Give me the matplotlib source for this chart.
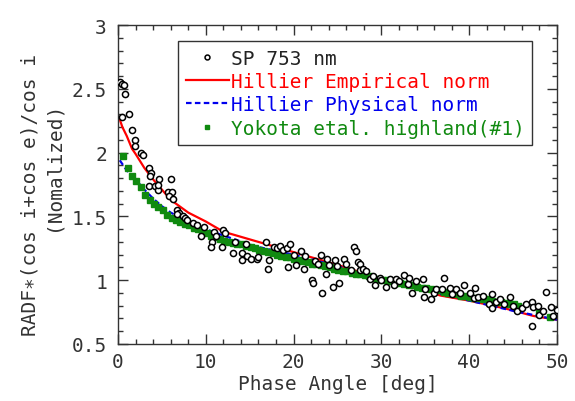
import matplotlib
matplotlib.use("Agg")
from matplotlib import pyplot as plt
from matplotlib.ticker import MultipleLocator, FuncFormatter

# SP 753 nm observations (phase angle, normalized RADF)
sp_x = [0.25, 0.45, 0.65, 0.8, 0.4, 1.25, 1.6, 1.9, 1.9, 2.65, 2.8, 3.55, 3.75, 3.7,
        4.65, 3.55, 4.2, 4.6, 4.5, 6.0, 5.75, 6.1, 5.85, 6.3, 6.75, 7.0, 6.7, 7.4,
        7.6, 7.85, 8.5, 9.0, 9.8, 9.4, 10.9, 11.2, 12.0, 12.2, 10.7, 10.6, 11.9, 13.1,
        13.3, 14.1, 14.1, 14.6, 14.7, 15.2, 15.8, 16.0, 16.9, 17.2, 17.1, 17.8, 18.1,
        18.5, 18.75, 19.3, 19.6, 19.4, 20.0, 20.3, 20.8, 21.3, 21.2, 22.1, 22.2, 22.4,
        22.8, 23.1, 23.8, 23.7, 23.2, 24.0, 24.5, 24.7, 25.0, 25.2, 25.7, 26.0, 26.5,
        26.9, 27.1, 27.3, 27.6, 27.6, 27.9, 28.3, 28.7, 29.0, 29.3, 29.8, 30.0, 30.5,
        31.0, 31.7, 31.4, 32.0, 32.6, 33.0, 33.1, 33.5, 33.9, 34.7, 34.9, 35.0, 35.7,
        36.0, 36.2, 37.1, 36.9, 37.8, 38.0, 38.5, 39.0, 39.4, 40.1, 40.5, 40.7, 41.0,
        41.6, 42.2, 42.6, 42.6, 43.0, 43.5, 44.0, 44.7, 45.0, 45.4, 46.0, 46.5, 47.1,
        47.3, 47.8, 47.2, 48.0, 48.4, 48.8, 49.3, 49.5, 50.0]
sp_y = [2.55, 2.54, 2.53, 2.46, 2.28, 2.30, 2.18, 2.10, 2.05, 2.00, 1.98, 1.88, 1.84, 1.82,
        1.79, 1.74, 1.74, 1.71, 1.75, 1.79, 1.69, 1.69, 1.66, 1.64, 1.55, 1.53, 1.52, 1.50,
        1.49, 1.47, 1.45, 1.43, 1.42, 1.35, 1.38, 1.35, 1.39, 1.37, 1.30, 1.26, 1.26, 1.21,
        1.30, 1.21, 1.16, 1.28, 1.19, 1.17, 1.17, 1.18, 1.30, 1.16, 1.09, 1.26, 1.25,
        1.27, 1.24, 1.25, 1.28, 1.10, 1.20, 1.12, 1.23, 1.19, 1.09, 1.00, 0.98, 1.15,
        1.13, 1.20, 1.17, 1.05, 0.90, 1.12, 0.95, 1.16, 1.11, 0.98, 1.17, 1.13, 1.08,
        1.26, 1.23, 1.14, 1.13, 1.08, 1.09, 1.07, 1.01, 1.03, 0.96, 1.02, 1.00, 0.95,
        1.01, 1.01, 0.96, 0.99, 1.04, 0.97, 1.02, 0.90, 0.99, 1.01, 0.87, 0.93, 0.85,
        0.90, 0.93, 1.02, 0.93, 0.94, 0.89, 0.93, 0.90, 0.96, 0.90, 0.86, 0.94, 0.87,
        0.88, 0.81, 0.89, 0.78, 0.83, 0.85, 0.81, 0.87, 0.80, 0.76, 0.78, 0.81, 0.83,
        0.79, 0.80, 0.64, 0.73, 0.76, 0.91, 0.79, 0.72, 0.77]

# Hillier empirical normalization
emp_x = [0.2, 0.5, 1, 1.6, 2, 3, 4, 5, 6, 7, 8, 10, 12, 14, 16, 18, 20, 25, 30, 35,
         36.7, 40, 44.3, 47.3, 50]
emp_y = [2.26, 2.20, 2.13, 2.03, 1.99, 1.88, 1.79, 1.71, 1.63, 1.58, 1.53, 1.46, 1.38,
         1.34, 1.30, 1.26, 1.22, 1.12, 1.01, 0.92, 0.88, 0.84, 0.775, 0.72, 0.69]

# Hillier physical normalization
phy_x = [0.2, 0.5, 1, 2, 3, 4, 5, 6, 8, 10, 12, 15, 16, 20, 25, 30, 35, 40, 45, 50]
phy_y = [1.94, 1.91, 1.86, 1.79, 1.71, 1.64, 1.58, 1.53, 1.46, 1.40, 1.35, 1.28, 1.26,
         1.20, 1.11, 1.00, 0.92, 0.84, 0.76, 0.69]

# Yokota et al. highland (#1)
yok_x = [0.6, 1.1, 1.6, 2.1, 2.6, 3.1, 3.6, 4.1, 4.6, 5.1, 5.6, 6.1, 6.6, 7.1, 7.6, 8.1,
         8.6, 9.1, 9.6, 10.1, 10.6, 11.1, 11.6, 12.1, 12.6, 13.1, 13.6, 14.1, 14.6, 15.1,
         15.6, 16.1, 16.6, 17.1, 17.6, 18.1, 18.6, 19.1, 19.6, 20.1, 20.6, 21.1, 21.6,
         22.1, 22.6, 23.1, 23.6, 24.1, 24.6, 25.1, 25.6, 26.1, 26.6, 27.1, 27.6, 28.1,
         28.6, 29.1, 29.6, 30.1, 30.6, 31.1, 31.6, 32.1, 32.6, 33.1, 33.6, 34.1, 34.6,
         35.1, 35.6, 36.1, 36.6, 37.1, 37.6, 38.1, 38.6, 39.1, 39.6, 40.1, 40.6, 41.1,
         41.6, 42.1, 42.6, 43.1, 43.6, 44.1, 44.6, 45.1, 45.6, 48.0, 49.2]
yok_y = [1.97, 1.88, 1.82, 1.78, 1.73, 1.67, 1.63, 1.60, 1.57, 1.55, 1.51, 1.49, 1.47,
         1.46, 1.44, 1.43, 1.41, 1.40, 1.38, 1.37, 1.35, 1.34, 1.32, 1.31, 1.30, 1.29,
         1.28, 1.28, 1.27, 1.26, 1.25, 1.24, 1.23, 1.22, 1.21, 1.20, 1.19, 1.18, 1.18,
         1.17, 1.16, 1.15, 1.14, 1.13, 1.13, 1.12, 1.11, 1.10, 1.09, 1.08, 1.07, 1.07,
         1.06, 1.05, 1.05, 1.04, 1.03, 1.02, 1.01, 1.00, 1.00, 0.99, 0.98, 0.98, 0.97,
         0.96, 0.96, 0.95, 0.94, 0.94, 0.93, 0.92, 0.92, 0.91, 0.90, 0.90, 0.89, 0.88,
         0.88, 0.87, 0.86, 0.86, 0.85, 0.85, 0.84, 0.83, 0.83, 0.82, 0.81, 0.81, 0.80,
         0.74, 0.71]

plt.rcParams['font.family'] = ['DejaVu Sans Mono', 'DejaVu Sans']
plt.rcParams['font.size'] = 14

fig = plt.figure(figsize=(5.75, 4.02), dpi=100)
ax = fig.add_axes([0.2052, 0.1418, 0.7635, 0.7935])

ax.plot(emp_x, emp_y, color='#ff0000', lw=1.6, label='Hillier Empirical norm', zorder=2)
ax.plot(phy_x, phy_y, color='#0000ee', lw=1.6, ls=(0, (2.5, 1.5)),
        label='Hillier Physical norm', zorder=2)
ax.plot(yok_x, yok_y, ls='none', marker='s', ms=4.0, color='#108a10', mec='#108a10',
        label='Yokota etal. highland(#1)', zorder=3)
ax.plot(sp_x, sp_y, ls='none', marker='o', ms=4.4, mfc='white', mec='black', mew=1.1,
        label='SP 753 nm', zorder=4)

ax.set_xlim(0, 50)
ax.set_ylim(0.5, 3)
ax.xaxis.set_major_locator(MultipleLocator(10))
ax.xaxis.set_minor_locator(MultipleLocator(2))
ax.yaxis.set_major_locator(MultipleLocator(0.5))
ax.yaxis.set_minor_locator(MultipleLocator(0.1))
ax.yaxis.set_major_formatter(FuncFormatter(lambda v, p: '%g' % v))
ax.tick_params(which='both', direction='in', top=True, right=True, colors='#333333',
               labelcolor='#333333')
ax.tick_params(which='major', length=7, width=1)
ax.tick_params(which='minor', length=3.5, width=1)
ax.tick_params(axis='y', which='major', pad=8)
ax.tick_params(axis='x', which='major', pad=6)
for s in ax.spines.values():
    s.set_color('#333333')
    s.set_linewidth(1)

ax.set_xlabel('Phase Angle [deg]', color='#333333', labelpad=2)
fig.text(30 / 575, 1 - 195 / 402, 'RADF\u2217(cos i+cos e)/cos i', rotation=90,
         ha='center', va='center', color='#333333')
fig.text(53 / 575, 1 - 166 / 402, '(Nomalized)', rotation=90,
         ha='center', va='center', color='#333333')

handles, labels = ax.get_legend_handles_labels()
order = [3, 0, 1, 2]
leg = ax.legend([handles[i] for i in order], [labels[i] for i in order],
                loc='upper left', bbox_to_anchor=(0.137, 0.95), handlelength=2.2,
                handletextpad=0.1, labelspacing=0.22, borderpad=0.4,
                borderaxespad=0, fancybox=False, framealpha=1, edgecolor='#333333',
                markerscale=0.8)
leg.get_frame().set_linewidth(1)
for t, c in zip(leg.get_texts(), ['#222222', '#ff0000', '#0000ee', '#108a10']):
    t.set_color(c)

fig.savefig('out.png', dpi=100)
